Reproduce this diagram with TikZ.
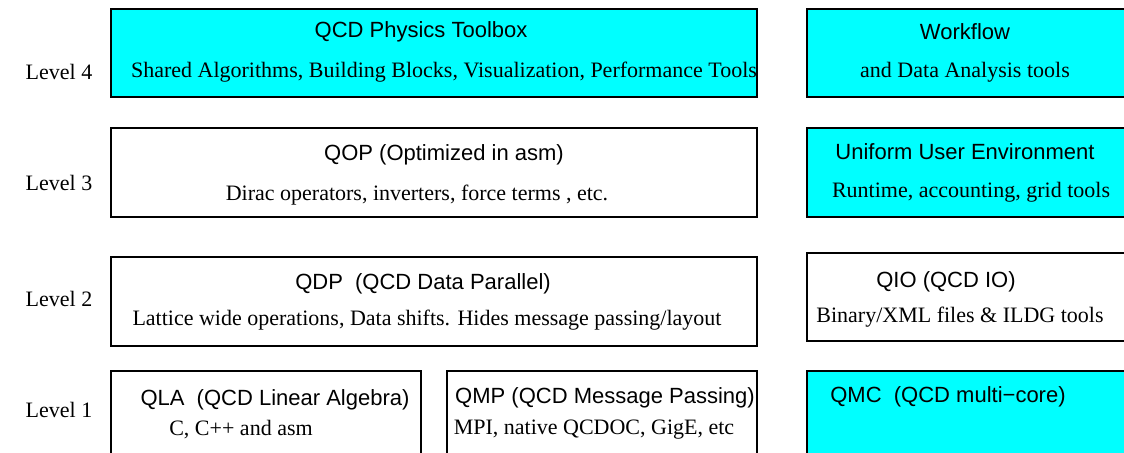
\documentclass[tikz,border=0pt]{standalone}
\usepackage{fontspec}
\setmainfont{Liberation Serif}
\newfontfamily\helv{Liberation Sans}
\definecolor{qcdcyan}{RGB}{0,255,255}
\tikzset{
	box/.style={draw, line width=1pt, inner sep=0pt, fill=white},
	cbox/.style={box, fill=qcdcyan},
	head/.style={inner sep=0pt, font=\helv\fontsize{11}{13}\selectfont},
	body/.style={inner sep=0pt, font=\fontsize{11}{13}\selectfont},
}
\begin{document}
\begin{tikzpicture}[x=0.5pt, y=-0.5pt]
			
			\useasboundingbox (0,0) rectangle (1124,453);
			
			% Levels
			\foreach \i/\y in {4/72,3/183,2/299,1/410}
			\node[body] (level\i) at (59,\y) {Level \i};
			
			% Level 4
			\node[cbox, minimum width=323pt, minimum height=44pt] (toolbox) at (434,53) {};
			\node[cbox, minimum width=162.5pt, minimum height=44pt] (workflow) at (969.5,53) {};
			
			% Level 3
			\node[box, minimum width=323pt, minimum height=44.5pt] (qop) at (434,172.5) {};
			\node[cbox, minimum width=162.5pt, minimum height=44.5pt] (uue) at (969.5,172.5) {};
			
			% Level 2
			\node[box, minimum width=323pt, minimum height=44.5pt] (qdp) at (434,301.5) {};
			\node[box, minimum width=162.5pt, minimum height=44pt] (qio) at (969.5,297) {};
			
			% Level 1
			\node[box, minimum width=155pt, minimum height=47pt] (qla) at (266,418) {};
			\node[box, minimum width=155pt, minimum height=47pt] (qmp) at (602,418) {};
			\node[cbox, minimum width=162.5pt, minimum height=47pt] (qmc) at (969.5,418) {};
			
			% Labels
			\node[head] (toolboxhead) at (421,32) {QCD Physics Toolbox};
			\node[body] (toolboxbody) at (444,72) {Shared Algorithms, Building Blocks, Visualization, Performance Tools};
			\node[head] (workflowhead) at (965,32) {Workflow};
			\node[body] (workflowbody) at (965,72) {and Data Analysis tools};
			
			\node[head] (qophead) at (444,155) {QOP (Optimized in asm)};
			\node[body] (qopbody) at (417,195) {Dirac operators, inverters, force terms , etc.};
			\node[head] (uuehead) at (965,152) {Uniform User Environment};
			\node[body] (uuebody) at (971,192) {Runtime, accounting, grid tools};
			
			\node[head] (qdphead) at (423,284) {QDP\ \ (QCD Data Parallel)};
			\node[body] (qdpbody) at (427,320) {Lattice wide operations, Data shifts. Hides message passing/layout};
			\node[head] (qiohead) at (946,282) {QIO (QCD IO)};
			\node[body] (qiobody) at (960,317) {Binary/XML files \& ILDG tools};
			
			\node[head] (qlahead) at (275,400) {QLA\ \ (QCD Linear Algebra)};
			\node[body] (qlabody) at (241,430) {C, C++ and asm};
			\node[head] (qmphead) at (605,398) {QMP (QCD Message Passing)};
			\node[body] (qmpbody) at (594,430) {MPI, native QCDOC, GigE, etc};
			\node[head] (qmchead) at (948,397) {QMC\ \ (QCD multi−core)};
			
		\end{tikzpicture}
\end{document}
